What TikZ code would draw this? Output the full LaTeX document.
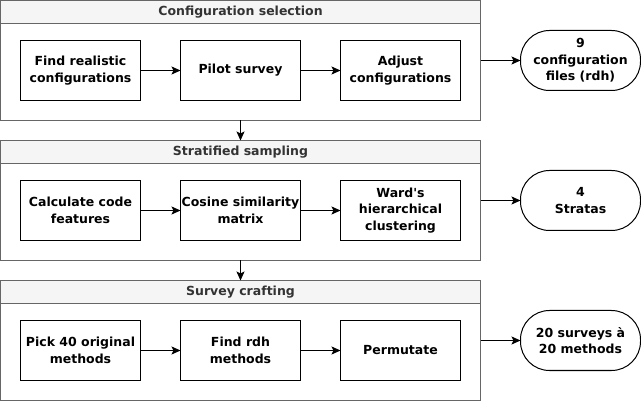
\documentclass[tikz,border=0pt]{standalone}
\usepackage{fontspec}
\setmainfont{DejaVu Sans}
\usepackage{tikz}
\usetikzlibrary{positioning,arrows.meta}
\definecolor{framegray}{HTML}{666666}
\definecolor{headfill}{HTML}{F5F5F5}
\definecolor{headtext}{HTML}{333333}
\tikzset{
  frame/.style={rectangle, draw=framegray, line width=1pt, minimum width=480pt, minimum height=120pt, inner sep=0pt, outer sep=0pt},
  header/.style={rectangle, draw=framegray, fill=headfill, line width=1pt, minimum width=480pt, minimum height=23pt, inner sep=0pt, outer sep=0pt,
                 text=headtext, font=\bfseries\fontsize{12.5}{16}\selectfont},
  stepbox/.style={rectangle, draw, line width=1pt, minimum width=120pt, minimum height=60pt, inner sep=0pt, outer sep=0pt,
                  align=center, font=\bfseries\fontsize{12.5}{16.5}\selectfont},
  result/.style={stepbox, rounded corners=29pt},
  fwd/.style={-{Stealth[length=9pt,width=8pt,inset=2pt]}, line width=1pt},
}

\begin{document}
\begin{tikzpicture}[x=1pt, y=-1pt]
  \useasboundingbox (0,0) rectangle (641,401);

  % configuration selection
  \node[frame] (frame1) at (240.5,60.5) {};
  \node[header, anchor=north] (head1) at (frame1.north) {Configuration selection};
  \node[stepbox] (find) at (80.5,70.5) {Find realistic\\configurations};
  \node[stepbox, right=40pt of find] (pilot) {Pilot survey};
  \node[stepbox, right=40pt of pilot] (adjust) {Adjust\\configurations};
  \node[result, right=40pt of frame1] (configs) {9\\configuration\\files (rdh)};

  % stratified sampling
  \node[frame, below=20pt of frame1] (frame2) {};
  \node[header, anchor=north] (head2) at (frame2.north) {Stratified sampling};
  \node[stepbox, below=80pt of find] (features) {Calculate code\\features};
  \node[stepbox, right=40pt of features] (cosine) {Cosine similarity\\matrix};
  \node[stepbox, right=40pt of cosine] (ward) {Ward\textquotesingle s\\hierarchical\\clustering};
  \node[result, right=40pt of frame2] (strata) {4\\Stratas};

  % survey crafting
  \node[frame, below=20pt of frame2] (frame3) {};
  \node[header, anchor=north] (head3) at (frame3.north) {Survey crafting};
  \node[stepbox, below=80pt of features] (pick) {Pick 40 original\\methods};
  \node[stepbox, right=40pt of pick] (rdh) {Find rdh\\methods};
  \node[stepbox, right=40pt of rdh] (permute) {Permutate};
  \node[result, right=40pt of frame3] (surveys) {20 surveys à\\20 methods};

  \draw[fwd] (find) -- (pilot);
  \draw[fwd] (pilot) -- (adjust);
  \draw[fwd] (features) -- (cosine);
  \draw[fwd] (cosine) -- (ward);
  \draw[fwd] (pick) -- (rdh);
  \draw[fwd] (rdh) -- (permute);

  \draw[fwd] (frame1) -- (configs);
  \draw[fwd] (frame2) -- (strata);
  \draw[fwd] (frame3) -- (surveys);
  \draw[fwd] (frame1) -- (frame2);
  \draw[fwd] (frame2) -- (frame3);

\end{tikzpicture}
\end{document}
